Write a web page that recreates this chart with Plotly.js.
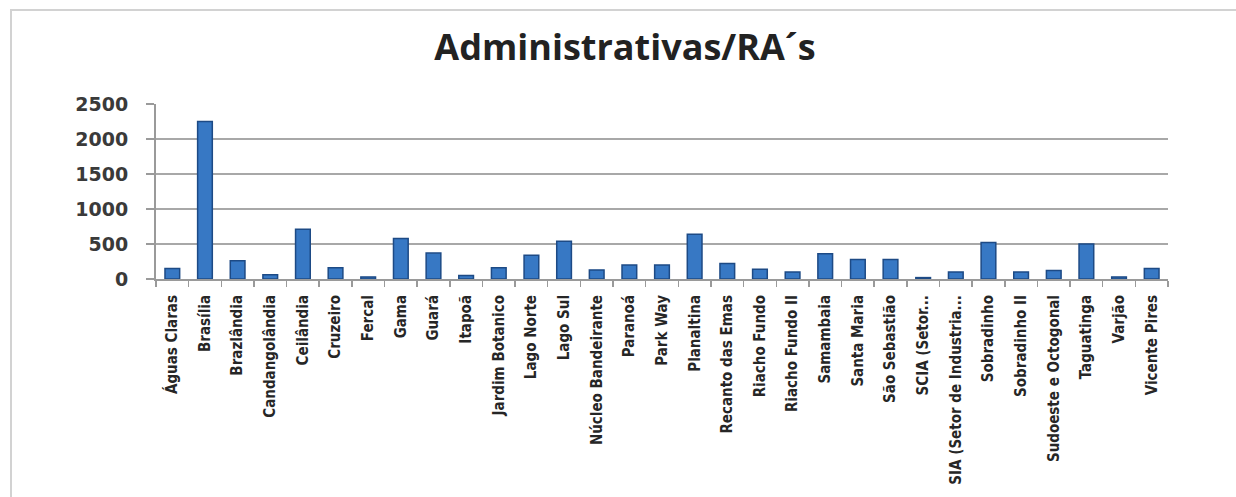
<!DOCTYPE html>
<html>
<head>
<meta charset="utf-8">
<script src="https://cdn.plot.ly/plotly-3.0.1.min.js"></script>
<style>
  html, body { margin: 0; padding: 0; background: #ffffff; overflow: hidden; }
  #frame { position: absolute; left: 10px; top: 9px; width: 1300px; height: 600px;
           border: 2px solid #d2d2d2; box-sizing: border-box; }
  #chart { position: absolute; left: 0; top: 0; width: 1236px; height: 497px; }
</style>
</head>
<body>
<div id="frame"></div>
<div id="chart"></div>
<script>
const categories = [
  "Águas Claras", "Brasília", "Brazlândia", "Candangolândia", "Ceilândia",
  "Cruzeiro", "Fercal", "Gama", "Guará", "Itapoã", "Jardim Botanico",
  "Lago Norte", "Lago Sul", "Núcleo Bandeirante", "Paranoá", "Park Way",
  "Planaltina", "Recanto das Emas", "Riacho Fundo", "Riacho Fundo II",
  "Samambaia", "Santa Maria", "São Sebastião", "SCIA (Setor...",
  "SIA (Setor de Industria...", "Sobradinho", "Sobradinho II",
  "Sudoeste e Octogonal", "Taguatinga", "Varjão", "Vicente Pires"
];
const values = [
  150, 2250, 260, 60, 710,
  160, 30, 580, 370, 50, 160,
  340, 540, 130, 200, 200,
  640, 220, 140, 100,
  360, 280, 280, 20,
  100, 520, 100,
  120, 500, 30, 150
];
const yTicks = [0, 500, 1000, 1500, 2000, 2500];

const trace = {
  type: "bar",
  x: categories,
  y: values,
  marker: { color: "#3778c4", line: { color: "#1d4a85", width: 1.5 } },
  hoverinfo: "x+y"
};

const layout = {
  width: 1236,
  height: 497,
  paper_bgcolor: "rgba(0,0,0,0)",
  plot_bgcolor: "rgba(0,0,0,0)",
  margin: { l: 156, r: 68, t: 104, b: 218 },
  showlegend: false,
  bargap: 0.55,
  title: {
    text: "Administrativas/RA´s",
    font: { family: "Open Sans, DejaVu Sans, sans-serif", size: 36, color: "#222222", weight: "bold" },
    x: 625 / 1236, xref: "container", xanchor: "center",
    y: 1 - 47 / 497, yref: "container", yanchor: "middle"
  },
  xaxis: {
    type: "category",
    tickangle: -90,
    tickfont: { family: "Liberation Sans Narrow, DejaVu Sans Condensed, sans-serif", size: 15, color: "#262626", weight: "bold" },
    ticks: "outside",
    tickson: "boundaries",
    ticklen: 6,
    tickcolor: "#9a9a9a",
    tickwidth: 1.5,
    showline: true,
    linecolor: "#9a9a9a",
    linewidth: 2,
    showgrid: false,
    ticklabelstandoff: 8,
    fixedrange: true
  },
  yaxis: {
    range: [0, 2500],
    tickvals: yTicks,
    ticktext: yTicks.map(String),
    tickfont: { family: "DejaVu Sans, Verdana, sans-serif", size: 19, color: "#3a3a3a", weight: "bold" },
    ticks: "outside",
    ticklen: 8,
    tickcolor: "#9a9a9a",
    tickwidth: 1.5,
    showline: true,
    linecolor: "#9a9a9a",
    linewidth: 2,
    showgrid: true,
    gridcolor: "#a8a8a8",
    gridwidth: 2,
    zeroline: false,
    ticklabelstandoff: 14,
    fixedrange: true
  }
};

Plotly.newPlot("chart", [trace], layout, { displayModeBar: false, staticPlot: true });
</script>
</body>
</html>
